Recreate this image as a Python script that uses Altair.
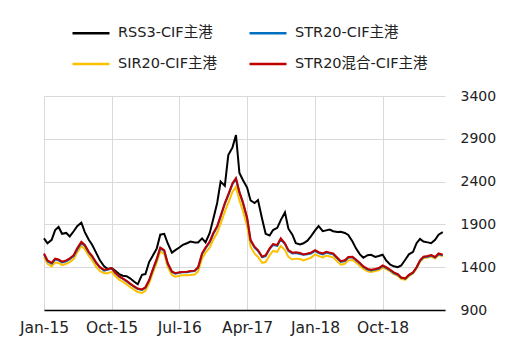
import altair as alt
import pandas as pd

# semi-monthly observation dates (1st and 15th), Jan 2015 - Jun 2019
dates = pd.date_range("2015-01-01", periods=107, freq="SMS").strftime("%Y-%m-%d")

series_names = ["RSS3-CIF主港", "STR20-CIF主港", "SIR20-CIF主港", "STR20混合-CIF主港"]
colors = ["#000000", "#0070c0", "#ffc000", "#c00000"]

rss3 = [
    1737, 1680, 1720, 1834, 1870, 1790, 1800, 1760, 1820, 1880, 1920, 1810,
    1720, 1660, 1562, 1480, 1410, 1380, 1390, 1360, 1320, 1300, 1295, 1270,
    1230, 1200, 1310, 1320, 1460, 1530, 1620, 1780, 1790, 1680, 1570, 1600,
    1630, 1660, 1680, 1700, 1690, 1690, 1737, 1690, 1800, 1960, 2150, 2400,
    2350, 2710, 2800, 2944, 2500, 2418, 2330, 2180, 2150, 2185, 1960, 1790,
    1770, 1834, 1860, 1950, 2040, 1850, 1780, 1680, 1665, 1680, 1710, 1760,
    1830, 1880, 1820, 1830, 1840, 1820, 1810, 1815, 1800, 1776, 1700, 1620,
    1550, 1510, 1540, 1545, 1520, 1530, 1545, 1480, 1430, 1410, 1400, 1420,
    1490, 1550, 1580, 1680, 1730, 1700, 1690, 1680, 1720, 1780, 1810,
]
str20 = [
    1550, 1470, 1440, 1490, 1480, 1455, 1470, 1495, 1530, 1605, 1680, 1650,
    1570, 1520, 1445, 1395, 1360, 1370, 1385, 1335, 1290, 1265, 1235, 1205,
    1170, 1145, 1135, 1160, 1245, 1360, 1490, 1620, 1590, 1440, 1345, 1325,
    1335, 1340, 1342, 1350, 1355, 1395, 1555, 1620, 1690, 1785, 1870, 1990,
    2140, 2240, 2370, 2430, 2270, 2150, 1970, 1710, 1630, 1590, 1515, 1530,
    1610, 1660, 1650, 1725, 1670, 1590, 1560, 1565, 1555, 1545, 1550, 1560,
    1590, 1565, 1550, 1570, 1560, 1550, 1500, 1462, 1472, 1510, 1515, 1482,
    1442, 1402, 1372, 1362, 1372, 1382, 1412, 1392, 1362, 1332, 1312, 1275,
    1265, 1305, 1335, 1395, 1475, 1515, 1522, 1535, 1512, 1552, 1538,
]
sir20 = [
    1520, 1440, 1410, 1455, 1450, 1425, 1440, 1460, 1495, 1570, 1650, 1610,
    1535, 1480, 1400, 1355, 1330, 1330, 1345, 1300, 1255, 1230, 1200, 1170,
    1135, 1110, 1100, 1125, 1210, 1325, 1455, 1585, 1555, 1405, 1310, 1290,
    1300, 1305, 1305, 1310, 1315, 1350, 1500, 1570, 1630, 1720, 1800, 1910,
    2050, 2150, 2280, 2340, 2180, 2060, 1880, 1640, 1560, 1520, 1450, 1460,
    1540, 1590, 1580, 1650, 1600, 1520, 1490, 1500, 1495, 1480, 1495, 1510,
    1550, 1530, 1515, 1535, 1525, 1515, 1465, 1430, 1440, 1480, 1485, 1455,
    1415, 1380, 1352, 1345, 1355, 1365, 1395, 1378, 1350, 1320, 1300, 1262,
    1255, 1295, 1325, 1385, 1462, 1505, 1512, 1525, 1502, 1542, 1528,
]
str20_mix = [
    1560, 1480, 1450, 1500, 1490, 1465, 1480, 1504, 1540, 1620, 1698, 1660,
    1580, 1530, 1450, 1400, 1370, 1375, 1390, 1340, 1295, 1270, 1240, 1210,
    1175, 1150, 1140, 1165, 1250, 1367, 1500, 1630, 1600, 1450, 1350, 1330,
    1340, 1345, 1348, 1355, 1360, 1400, 1562, 1630, 1700, 1796, 1880, 2000,
    2150, 2250, 2380, 2440, 2280, 2160, 1980, 1720, 1640, 1600, 1523, 1540,
    1620, 1670, 1660, 1737, 1680, 1600, 1570, 1575, 1565, 1550, 1560, 1570,
    1600, 1575, 1560, 1580, 1570, 1560, 1510, 1470, 1480, 1520, 1523, 1490,
    1450, 1410, 1380, 1370, 1380, 1390, 1420, 1400, 1370, 1340, 1320, 1280,
    1270, 1310, 1340, 1400, 1480, 1523, 1530, 1542, 1520, 1560, 1545,
]

y_ticks = [900, 1400, 1900, 2400, 2900, 3400]
x_ticks = [(2015, 1), (2015, 10), (2016, 7), (2017, 4), (2018, 1), (2018, 10)]

frames = []
for name, vals in zip(series_names, [rss3, str20, sir20, str20_mix]):
    frames.append(pd.DataFrame({"date": dates, "value": vals, "series": name}))
df = pd.concat(frames, ignore_index=True)

FONT = "DejaVu Sans, Noto Sans CJK SC"

x_enc = alt.X(
    "date:T",
    scale=alt.Scale(
        type="utc",
        domain=[alt.DateTime(year=2015, month=1, date=1, utc=True),
                alt.DateTime(year=2019, month=6, date=10, utc=True)],
    ),
    axis=alt.Axis(
        values=[alt.DateTime(year=y, month=m, date=1, utc=True) for y, m in x_ticks],
        format="%b-%y", title=None, ticks=False, domain=True,
        domainColor="#000000", domainWidth=1.5, labelPadding=10,
        labelOverlap=False, labelFlush=False, labelFontSize=15.5,
        grid=True, gridColor="#d9d9d9", gridWidth=1,
    ),
)
y_enc = alt.Y(
    "value:Q",
    scale=alt.Scale(domain=[900, 3400]),
    axis=alt.Axis(
        orient="right", values=y_ticks, format="d", title=None, ticks=False,
        domain=False, labelPadding=15, labelFontSize=14,
        grid=True, gridColor="#d9d9d9", gridWidth=1,
    ),
)
color_enc = alt.Color(
    "series:N",
    scale=alt.Scale(domain=series_names, range=colors),
    legend=alt.Legend(
        orient="none", direction="horizontal", legendX=27, legendY=-83,
        columns=2, title=None,
        symbolType="stroke", symbolSize=1369, symbolStrokeWidth=2.5,
        labelFontSize=14.5, labelOffset=7, columnPadding=27, rowPadding=4,
        labelFont=FONT, labelColor="#222222", padding=0,
    ),
)

base = alt.Chart(df).mark_line(strokeWidth=2).encode(
    x=x_enc, y=y_enc, color=color_enc
)

draw_order = ["RSS3-CIF主港", "SIR20-CIF主港", "STR20-CIF主港", "STR20混合-CIF主港"]
layers = [base.transform_filter(alt.datum.series == s) for s in draw_order]

chart = alt.layer(*layers).properties(
    width=401,
    height=214,
    autosize=alt.AutoSizeParams(type="none"),
    padding={"left": 44, "top": 96, "right": 71, "bottom": 43},
).configure_view(strokeWidth=0).configure_axis(
    labelFont=FONT, labelColor="#222222"
)

chart.save("out.html", embed_options={"renderer": "svg", "actions": False})
